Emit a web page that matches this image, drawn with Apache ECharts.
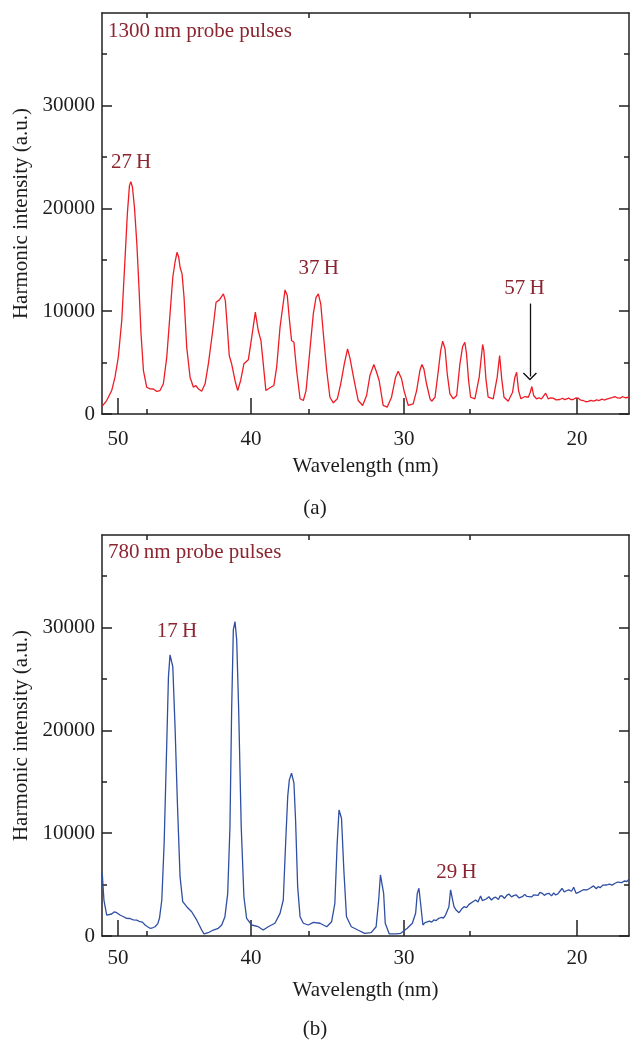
<!DOCTYPE html>
<html>
<head>
<meta charset="utf-8">
<title>Harmonic spectra</title>
<script src="https://cdn.jsdelivr.net/npm/echarts@6/dist/echarts.min.js"></script>
<style>
  html, body { margin: 0; padding: 0; background: #ffffff; }
  #chart { width: 630px; height: 1040px; }
</style>
</head>
<body>
<div id="chart"></div>
<script>
// Harmonic spectra recorded with 1300 nm (a) and 780 nm (b) probe pulses.
// Each entry: [wavelength (nm), harmonic intensity (a.u.)]
const spectrumA = [
  [51.30, 760], [50.93, 1310], [50.52, 2280], [50.25, 3580], [49.98, 5520], [49.70, 9090], [49.43, 15240],
  [49.25, 19460], [49.08, 22210], [48.97, 22600], [48.84, 22050], [48.68, 20100], [48.49, 16540], [48.31, 12000],
  [48.16, 7800], [47.97, 4230], [47.71, 2600], [47.45, 2450], [47.19, 2430], [46.93, 2190], [46.68, 2280], [46.42, 2940],
  [46.16, 5520], [45.91, 9740], [45.70, 13300], [45.53, 14760], [45.38, 15730], [45.25, 15240], [45.15, 14270],
  [45.00, 13630], [44.85, 11350], [44.65, 6490], [44.40, 3580], [44.15, 2600], [43.98, 2770], [43.79, 2450],
  [43.54, 2220], [43.29, 2940],
  [43.05, 4880], [42.73, 8120], [42.49, 10870], [42.25, 11100], [41.96, 11680], [41.82, 11030], [41.68, 8440],
  [41.54, 5690], [41.37, 4880], [41.13, 3260], [40.94, 2280], [40.73, 3260], [40.50, 4880], [40.19, 5270],
  [39.95, 7470], [39.70, 9900], [39.50, 8120], [39.31, 7140], [39.15, 4880], [38.97, 2280], [38.69, 2550],
  [38.42, 2770], [38.23, 4550],
  [38.00, 8440], [37.82, 10380], [37.66, 12070], [37.51, 11520], [37.38, 9410], [37.22, 7140], [37.06, 6980],
  [36.88, 4230], [36.65, 1480], [36.43, 1310], [36.25, 2280],
  [36.04, 5520], [35.77, 9740], [35.59, 11350], [35.44, 11680], [35.28, 10710], [35.11, 7800], [34.89, 4230],
  [34.68, 1630], [34.46, 1090], [34.20, 1480],
  [33.98, 2940], [33.75, 4880], [33.54, 6340], [33.39, 5460], [33.28, 5370], [33.12, 3260], [32.86, 1310],
  [32.58, 830], [32.33, 1800],
  [32.12, 3740], [31.87, 4810], [31.70, 4060], [31.54, 3260], [31.29, 830], [31.04, 660], [30.77, 1630],
  [30.52, 3580], [30.36, 4160], [30.15, 3420], [30.00, 2280], [29.74, 830], [29.44, 990], [29.23, 2280],
  [29.03, 4230], [28.91, 4810], [28.79, 4390], [28.63, 2940], [28.42, 1480], [28.32, 1240], [28.12, 1630],
  [27.92, 4230], [27.78, 6170], [27.66, 7080], [27.52, 6340], [27.39, 3910], [27.23, 1960], [27.03, 1480], [26.83, 1800],
  [26.64, 4880], [26.48, 6560], [26.35, 6980], [26.25, 5850], [26.13, 3260], [26.01, 1630], [25.76, 1480],
  [25.51, 3580], [25.31, 6760], [25.24, 6170], [25.12, 3420], [24.99, 1630], [24.70, 1480],
  [24.47, 3580], [24.33, 5690], [24.21, 3420], [24.08, 1630], [23.84, 1240],
  [23.59, 2120], [23.46, 3580], [23.36, 4060], [23.25, 2280], [23.12, 1480], [22.89, 1700], [22.70, 1630],
  [22.59, 2120], [22.50, 2670], [22.40, 1800], [22.24, 1480], [22.10, 1560], [21.96, 1460], [21.85, 1620],
  [21.73, 2020], [21.59, 1480], [21.45, 1560], [21.31, 1540], [21.15, 1380], [21.05, 1510], [20.94, 1410],
  [20.80, 1530], [20.68, 1400], [20.57, 1480], [20.45, 1550], [20.33, 1390], [20.21, 1410], [20.07, 1560],
  [19.93, 1540], [19.80, 1350], [19.66, 1310], [19.52, 1190], [19.38, 1220], [19.25, 1330], [19.10, 1260],
  [18.93, 1380], [18.80, 1310], [18.65, 1450], [18.52, 1360], [18.39, 1440], [18.25, 1520], [18.10, 1600],
  [17.95, 1700], [17.82, 1560], [17.68, 1540], [17.55, 1680], [17.40, 1580], [17.20, 1630]
];

const spectrumB = [
  [51.30, 6100], [51.16, 3500], [50.93, 2040], [50.52, 2140], [50.30, 2350], [50.11, 2270], [49.84, 2040],
  [49.60, 1900], [49.30, 1720], [49.05, 1700], [48.77, 1560], [48.50, 1550], [48.24, 1390], [48.05, 1350],
  [47.84, 1070], [47.65, 900], [47.45, 750], [47.25, 800], [47.06, 900], [46.85, 1200], [46.72, 1720],
  [46.54, 3500], [46.36, 9020], [46.16, 18750], [46.03, 25230], [45.91, 27340], [45.81, 27500], [45.70, 26200],
  [45.53, 20370], [45.35, 12910], [45.15, 5770], [44.95, 3340], [44.65, 2850], [44.28, 2360], [43.91, 1560],
  [43.54, 580], [43.37, 200], [43.06, 320], [42.69, 580], [42.33, 750], [42.08, 1070], [41.85, 1880],
  [41.65, 4150], [41.49, 10630], [41.37, 21990], [41.25, 29770], [41.13, 30580], [41.01, 28800], [40.87, 21990],
  [40.69, 10630], [40.50, 3820], [40.31, 1720], [39.95, 1070], [39.50, 900], [39.15, 580], [38.81, 900],
  [38.35, 1240], [38.00, 2200], [37.78, 3500], [37.62, 9020], [37.48, 13550], [37.37, 15180], [37.22, 15830],
  [37.06, 14860], [36.95, 11290], [36.81, 4800], [36.65, 1880], [36.43, 1240], [36.10, 1070], [35.77, 1330],
  [35.33, 1240], [34.89, 900], [34.57, 1390], [34.36, 3180], [34.21, 9020], [34.09, 12260], [33.93, 11450],
  [33.78, 6420], [33.61, 1880], [33.30, 900], [32.88, 580], [32.46, 260], [32.04, 320], [31.73, 900],
  [31.57, 3500], [31.46, 5940], [31.36, 6100], [31.26, 4150], [31.16, 1240], [30.91, 200], [30.50, 200],
  [30.20, 260], [29.80, 750], [29.49, 1240], [29.29, 2210], [29.19, 4150], [29.09, 4640], [28.99, 3180],
  [28.85, 1070], [28.72, 1300], [28.60, 1240], [28.45, 1450], [28.32, 1350], [28.19, 1560], [28.05, 1500],
  [27.89, 1720], [27.75, 1800], [27.62, 1750], [27.49, 2040], [27.39, 2200], [27.29, 2850], [27.19, 4480],
  [27.09, 4310], [26.99, 2850], [26.85, 2500], [26.69, 2270], [26.55, 2600], [26.40, 2850], [26.25, 2750],
  [26.12, 3050], [26.01, 3180], [25.86, 3350], [25.72, 3500], [25.58, 3300], [25.43, 3890], [25.33, 3450],
  [25.24, 3340], [25.10, 3600], [24.95, 3820], [24.80, 3500], [24.68, 3700], [24.56, 3770], [24.40, 3550],
  [24.30, 3900], [24.18, 3890], [24.05, 3650], [23.92, 3950], [23.80, 4090], [23.65, 3800], [23.50, 3950],
  [23.38, 3990], [23.22, 3700], [23.04, 3820], [22.90, 4050], [22.78, 3850], [22.67, 3990], [22.50, 3800],
  [22.40, 4000], [22.29, 3890], [22.15, 3950], [22.05, 4250], [21.92, 4150], [21.80, 3950], [21.68, 4100],
  [21.55, 4150], [21.40, 3900], [21.28, 4200], [21.18, 3990], [21.05, 4100], [20.92, 4400], [20.82, 4640],
  [20.70, 4300], [20.58, 4400], [20.45, 4480], [20.30, 4350], [20.18, 4740], [20.05, 4150], [19.92, 4250],
  [19.82, 4310], [19.65, 4500], [19.46, 4480], [19.30, 4650], [19.20, 4550], [19.10, 4870], [18.95, 4600],
  [18.85, 4800], [18.74, 4700], [18.60, 4950], [18.50, 4800], [18.39, 4960], [18.25, 5050], [18.10, 4950],
  [17.94, 5130], [17.80, 5250], [17.70, 5100], [17.59, 5190], [17.45, 5350], [17.32, 5300], [17.20, 5520]
];

// Axis ticks and ranges
const wavelengthRange = [51.32, 17.2];           // nm, left and right edge of the frame
const wavelengthTicks = [50, 40, 30, 20];         // labelled wavelengths
const frameTicks = [2.9, 19.05, 35.2];            // detector-plane graduations (mm)
const intensityRange = [0, 39000];
const intensityTicks = [0, 10000, 20000, 30000];
const intensityMinorTicks = [5000, 15000, 25000, 35000];

// Harmonic order annotations: [text, wavelength, intensity]
const notesA = [['27\u2009H', 48.95, 24450], ['37\u2009H', 35.42, 14140], ['57\u2009H', 22.92, 12200]];
const notesB = [['17\u2009H', 45.38, 29580], ['29\u2009H', 26.84, 6130]];
// Arrow pointing at the 57th harmonic: wavelength, start and end intensity
const arrowA = [22.61, 10740, 3650];

// Flat-field grating: wavelength -> position along the detector plane (mm), 50 nm at 0.
function detectorPos(wl) {
  const u = (50 - wl) / 10;
  return 12.3 * u + u * u;
}

const FONT = '"Liberation Serif", "DejaVu Serif", "Times New Roman", serif';
const INK = '#1c1c1c';
const NOTE = '#8b2530';
const FRAME = { color: '#202020', width: 1.5 };

const xMin = detectorPos(wavelengthRange[0]);
const xMax = detectorPos(wavelengthRange[1]);
const xTickPos = wavelengthTicks.map(detectorPos);

function wavelengthLabel(v) {
  const i = xTickPos.findIndex(p => Math.abs(p - v) < 1e-6);
  return i >= 0 ? String(wavelengthTicks[i]) : '';
}

const chevron = 'path://M10,0 L20,9 L18.6,10.2 L10,2.6 L1.4,10.2 L0,9 Z';

const panels = [
  { top: 13, spectrum: spectrumA, color: '#ee1c25', probe: '1300\u2009nm probe pulses', probeTop: 21,
    caption: '(a)', captionTop: 498, labelMargin: 15, nameGap: 42, notes: notesA, arrow: arrowA },
  { top: 535, spectrum: spectrumB, color: '#2f4fa2', probe: '780\u2009nm probe pulses', probeTop: 542,
    caption: '(b)', captionTop: 1019, labelMargin: 12, nameGap: 44, notes: notesB, arrow: null }
];

const grid = [], xAxis = [], yAxis = [], series = [], title = [];
const textBase = { fontFamily: FONT, fontSize: 21, fontWeight: 'normal' };

panels.forEach((p, i) => {
  grid.push({ left: 102, right: 1, top: p.top, height: 401, containLabel: false, outerBoundsMode: 'none' });

  const baseX = {
    gridIndex: i, type: 'value', min: xMin, max: xMax,
    splitLine: { show: false }, axisLabel: { show: false },
    axisTick: { show: false }, axisLine: { show: false, onZero: false }
  };
  // bottom axis with wavelength labels
  xAxis.push(Object.assign({}, baseX, {
    position: 'bottom',
    axisLine: { show: true, onZero: false, lineStyle: FRAME },
    axisTick: { show: true, inside: true, length: 16, customValues: xTickPos, lineStyle: FRAME },
    axisLabel: { show: true, customValues: xTickPos, formatter: wavelengthLabel, margin: p.labelMargin, color: INK, fontFamily: FONT, fontSize: 21 },
    name: 'Wavelength (nm)', nameLocation: 'middle', nameGap: p.nameGap,
    nameTextStyle: Object.assign({ color: INK }, textBase)
  }));
  // short graduations on the bottom edge
  xAxis.push(Object.assign({}, baseX, {
    position: 'bottom',
    axisTick: { show: true, inside: true, length: 5, customValues: frameTicks, lineStyle: FRAME }
  }));
  // top edge of the frame
  xAxis.push(Object.assign({}, baseX, {
    position: 'top',
    axisLine: { show: true, onZero: false, lineStyle: FRAME },
    axisTick: { show: true, inside: true, length: 5, customValues: frameTicks, lineStyle: FRAME }
  }));

  const baseY = {
    gridIndex: i, type: 'value', min: intensityRange[0], max: intensityRange[1],
    splitLine: { show: false }, axisLabel: { show: false },
    axisTick: { show: false }, axisLine: { show: false, onZero: false }
  };
  yAxis.push(Object.assign({}, baseY, {
    position: 'left',
    axisLine: { show: true, onZero: false, lineStyle: FRAME },
    axisTick: { show: true, inside: true, length: 10, customValues: intensityTicks, lineStyle: FRAME },
    axisLabel: { show: true, customValues: intensityTicks, formatter: v => String(v), margin: 7, color: INK, fontFamily: FONT, fontSize: 21 },
    name: 'Harmonic intensity (a.u.)', nameLocation: 'middle', nameRotate: 90, nameGap: 70,
    nameTextStyle: Object.assign({ color: INK }, textBase)
  }));
  yAxis.push(Object.assign({}, baseY, {
    position: 'left',
    axisTick: { show: true, inside: true, length: 5, customValues: intensityMinorTicks, lineStyle: FRAME }
  }));
  yAxis.push(Object.assign({}, baseY, {
    position: 'right',
    axisLine: { show: true, onZero: false, lineStyle: FRAME },
    axisTick: { show: true, inside: true, length: 10, customValues: intensityTicks, lineStyle: FRAME }
  }));
  yAxis.push(Object.assign({}, baseY, {
    position: 'right',
    axisTick: { show: true, inside: true, length: 5, customValues: intensityMinorTicks, lineStyle: FRAME }
  }));

  const s = {
    type: 'line',
    xAxisIndex: i * 3, yAxisIndex: i * 4,
    data: p.spectrum.map(([wl, v]) => [detectorPos(wl), v]),
    showSymbol: false, symbol: 'none', smooth: false,
    lineStyle: { color: p.color, width: 1.3 },
    silent: true, animation: false,
    markPoint: {
      symbol: 'rect', symbolSize: 1, silent: true, animation: false,
      itemStyle: { color: 'rgba(0,0,0,0)' },
      label: Object.assign({ show: true, position: 'inside', color: NOTE, formatter: d => d.name }, textBase),
      data: p.notes.map(([text, wl, v]) => ({ name: text, coord: [detectorPos(wl), v] }))
    }
  };
  if (p.arrow) {
    const [wl, from, to] = p.arrow;
    s.markLine = {
      silent: true, animation: false,
      label: { show: false },
      lineStyle: { color: '#111111', width: 1.3, type: 'solid' },
      data: [[
        { coord: [detectorPos(wl), from], symbol: 'none' },
        { coord: [detectorPos(wl), to], symbol: chevron, symbolSize: [14, 8] }
      ]]
    };
  }
  series.push(s);

  title.push({
    text: p.probe, left: 108, top: p.probeTop, padding: 0,
    textStyle: Object.assign({ color: NOTE }, textBase)
  });
  title.push({
    text: p.caption, left: 'center', top: p.captionTop, padding: 0,
    textStyle: Object.assign({ color: INK }, textBase)
  });
});

const chart = echarts.init(document.getElementById('chart'), null, { renderer: 'canvas' });
chart.setOption({
  backgroundColor: '#ffffff',
  animation: false,
  title, grid, xAxis, yAxis, series
});
</script>
</body>
</html>
